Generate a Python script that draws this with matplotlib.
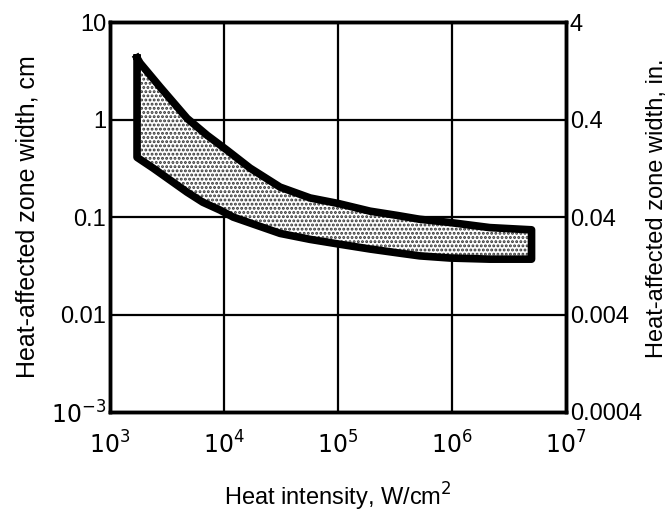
import numpy as np
import matplotlib.pyplot as plt

plt.rcParams['font.family'] = ['Liberation Sans', 'DejaVu Sans']
plt.rcParams['hatch.linewidth'] = 1.4

# Band limits (heat intensity in W/cm^2, width in cm)
upper_x = [1.72e3, 1.83e3, 2.75e3, 4.73e3, 7.1e3, 1.06e4, 1.69e4, 3.1e4,
           5.7e4, 1.0e5, 1.91e5, 3.3e5, 5.2e5, 9.6e5, 2.15e6, 5.0e6]
upper_y = [4.3, 3.8, 2.15, 1.03, 0.69, 0.486, 0.318, 0.203,
           0.157, 0.138, 0.115, 0.104, 0.095, 0.088, 0.078, 0.074]

lower_x = [1.72e3, 2.38e3, 3.36e3, 4.73e3, 6.5e3, 9.2e3, 1.2e4, 1.69e4,
           3.1e4, 5.7e4, 1.0e5, 1.91e5, 3.3e5, 5.2e5, 9.6e5, 2.15e6, 5.0e6]
lower_y = [0.41, 0.318, 0.239, 0.180, 0.142, 0.118, 0.100, 0.087,
           0.068, 0.059, 0.053, 0.047, 0.043, 0.040, 0.038, 0.037, 0.037]

x_ticks = [1e3, 1e4, 1e5, 1e6, 1e7]
x_labels = ['$10^3$', '$10^4$', '$10^5$', '$10^6$', '$10^7$']
y_ticks = [1e-3, 1e-2, 1e-1, 1, 10]
y_labels = ['$10^{-3}$', '0.01', '0.1', '1', '10']
y_labels_in = ['0.0004', '0.004', '0.04', '0.4', '4']

fig = plt.figure(figsize=(6.72, 5.15), dpi=100)
ax = fig.add_axes([0.164, 0.2, 0.678, 0.757])
ax.set_xscale('log')
ax.set_yscale('log')
ax.set_xlim(1e3, 1e7)
ax.set_ylim(1e-3, 10)

# grid
for xv in x_ticks[1:-1]:
    ax.axvline(xv, color='black', lw=1.6, zorder=1)
for yv in y_ticks[1:-1]:
    ax.axhline(yv, color='black', lw=1.6, zorder=1)

# stippled band
poly_x = list(upper_x) + list(lower_x[::-1])
poly_y = list(upper_y) + list(lower_y[::-1])
ax.fill(poly_x, poly_y, facecolor='white', edgecolor='#333333', hatch='....',
        linewidth=0, zorder=2)
ax.plot(poly_x + [poly_x[0]], poly_y + [poly_y[0]], color='black', lw=5.5,
        solid_joinstyle='round', zorder=3)

ax.set_xticks(x_ticks)
ax.set_xticklabels(x_labels, fontsize=17)
ax.set_yticks(y_ticks)
ax.set_yticklabels(y_labels, fontsize=17)
ax.minorticks_off()
ax.tick_params(length=0, pad=14)
ax.tick_params(axis='y', pad=3)
for s in ax.spines.values():
    s.set_linewidth(2.5)

ax2 = ax.twinx()
ax2.set_yscale('log')
ax2.set_ylim(1e-3, 10)
ax2.set_yticks(y_ticks)
ax2.set_yticklabels(y_labels_in, fontsize=17)
ax2.minorticks_off()
ax2.tick_params(length=0, pad=3)
for s in ax2.spines.values():
    s.set_linewidth(2.5)

ax.set_xlabel('Heat intensity, W/cm$^2$', fontsize=17, labelpad=16)
ax.set_ylabel('Heat-affected zone width, cm', fontsize=18, labelpad=8)
fig.text(0.978, 0.595, 'Heat-affected zone width, in.', fontsize=17,
         rotation=90, ha='center', va='center')

fig.savefig('out.png', dpi=100)
